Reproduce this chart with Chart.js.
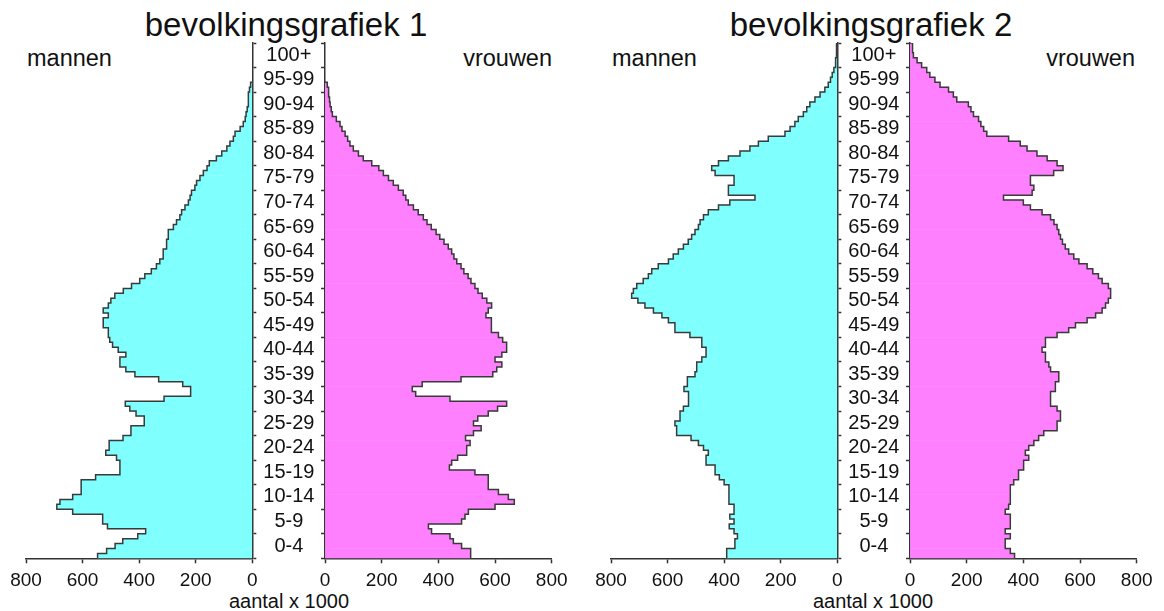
<!DOCTYPE html>
<html>
<head>
<meta charset="utf-8">
<script src="https://cdn.jsdelivr.net/npm/chart.js@4.4.1/dist/chart.umd.min.js"></script>
<style>
html,body{margin:0;padding:0;background:#fff;}
#wrap{position:relative;width:1164px;height:611px;overflow:hidden;font-family:"Liberation Sans",Arial,sans-serif;color:#111;}
canvas{position:absolute;top:0;}
.t{position:absolute;white-space:nowrap;line-height:1;}
</style>
</head>
<body>
<div id="wrap">
  <div class="t" style="font-size:33px;top:8px;left:286px;transform:translateX(-50%)">bevolkingsgrafiek 1</div>
  <div class="t" style="font-size:33px;top:8px;left:871px;transform:translateX(-50%)">bevolkingsgrafiek 2</div>
  <div class="t" style="font-size:23.5px;top:47.4px;left:27px">mannen</div>
  <div class="t" style="font-size:23.5px;top:47.4px;left:552px;transform:translateX(-100%)">vrouwen</div>
  <div class="t" style="font-size:23.5px;top:47.4px;left:612px">mannen</div>
  <div class="t" style="font-size:23.5px;top:47.4px;left:1135px;transform:translateX(-100%)">vrouwen</div>
  <div class="t" style="font-size:20px;top:591px;left:289px;transform:translateX(-50%)">aantal x 1000</div>
  <div class="t" style="font-size:20px;top:591px;left:873px;transform:translateX(-50%)">aantal x 1000</div>
  <canvas id="c1L" width="330" height="611" style="left:0px"></canvas>
  <canvas id="c1R" width="280" height="611" style="left:300px"></canvas>
  <canvas id="c2L" width="330" height="611" style="left:585px"></canvas>
  <canvas id="c2R" width="280" height="611" style="left:885px"></canvas>
</div>
<script>
// ---- data (x 1000 persons, by single year of age, starting at age 0) ----
const ageLabels = ['0-4','5-9','10-14','15-19','20-24','25-29','30-34','35-39','40-44','45-49',
  '50-54','55-59','60-64','65-69','70-74','75-79','80-84','85-89','90-94','95-99','100+'];
const xTickValues = [0, 200, 400, 600, 800];

const men1 = [547,515,485,458,405,377,512,529,529,635,
  691,680,635,605,605,605,554,468,468,468,
  480,518,506,506,457,429,429,382,382,411,
  433,449,312,218,218,246,331,415,447,468,
  468,447,474,494,504,509,509,527,527,509,
  527,509,500,486,456,427,398,380,357,339,
  327,315,315,303,303,297,297,279,268,256,
  250,238,226,220,215,203,197,185,173,160,
  152,127,108,90,79,67,61,43,32,25,
  22,18,14,14,14,10,6];

const women1 = [514,514,482,453,441,376,365,482,494,506,
  600,668,647,612,576,576,576,529,439,447,
  468,500,500,512,496,524,551,524,539,576,
  609,641,441,320,308,343,480,592,606,624,
  600,624,641,641,627,612,588,588,586,568,
  576,588,571,555,540,529,515,505,490,480,
  465,455,447,435,420,405,392,375,360,347,
  329,312,294,285,276,259,241,224,206,190,
  165,135,118,100,88,80,71,60,53,40,
  26,22,18,16,14,12,8];

const men2 = [391,391,362,362,353,365,382,365,380,365,
  365,383,383,383,383,400,417,432,432,464,
  464,456,473,491,517,568,568,574,556,556,
  544,526,526,526,542,530,530,503,497,497,
  479,464,464,479,479,521,574,574,597,620,
  650,680,705,727,721,709,686,668,656,633,
  597,580,562,544,527,515,503,491,485,473,
  456,420,380,291,385,385,365,365,432,444,
  420,385,344,309,279,244,185,167,150,138,
  120,108,97,79,61,44,32,24,18,12,
  8,5,4,3,2];

const women2 = [369,354,336,336,354,336,354,354,354,336,
  348,354,354,354,354,366,383,383,401,401,
  419,407,419,437,454,472,519,519,531,531,
  519,496,496,496,513,513,525,525,496,490,
  478,478,466,478,478,519,560,584,625,655,
  678,690,700,708,708,700,678,665,645,625,
  596,578,560,548,538,531,525,519,508,496,
  466,425,400,330,431,437,425,425,507,540,
  519,484,448,413,389,348,271,260,250,242,
  224,215,206,165,153,136,106,88,70,59,
  41,25,12,9,9];

// ---- styling ----
const AX = '#333333';
const CYAN = '#80ffff';
const MAGENTA = '#ff80ff';
Chart.defaults.font.family = '"Liberation Sans", Arial, sans-serif';

function outlinePoints(vals) {
  const pts = [];
  vals.forEach((v, i) => { pts.push({x: v, y: i}); pts.push({x: v, y: i + 1}); });
  pts.push({x: 0, y: vals.length});
  return pts;
}
function barPoints(vals) {
  return vals.map((v, i) => ({x: v, y: i + 0.5}));
}

function makeHalf(id, vals, color, isLeft) {
  return new Chart(document.getElementById(id), {
    type: 'bar',
    data: {
      datasets: [
        {type: 'line', data: outlinePoints(vals), borderColor: '#3a3a3a', borderWidth: 1.5,
         pointRadius: 0, fill: false, tension: 0, order: 0},
        {type: 'bar', data: barPoints(vals), backgroundColor: color, borderWidth: 0,
         barPercentage: 1, categoryPercentage: 1, order: 1}
      ]
    },
    options: {
      indexAxis: 'y',
      responsive: false,
      animation: false,
      events: [],
      layout: {padding: isLeft ? {left: 26, right: 4.7, top: 43, bottom: 12.7}
                                : {left: 17, right: 28.3, top: 43, bottom: 12.7}},
      plugins: {legend: {display: false}, tooltip: {enabled: false}},
      scales: {
        x: {
          type: 'linear', min: 0, max: 800, reverse: isLeft, offset: false, position: 'bottom',
          afterBuildTicks: s => { s.ticks = xTickValues.map(v => ({value: v})); },
          afterFit: s => { s.height = 40; },
          ticks: {font: {size: 19}, color: '#111', padding: 6.5, maxRotation: 0, autoSkip: false},
          grid: {offset: false, drawOnChartArea: false, drawTicks: true, tickLength: 5, tickColor: AX, tickWidth: 1.5},
          border: {display: true, color: AX, width: 1.5}
        },
        y: {
          type: 'linear', min: 0, max: 105, offset: false, position: isLeft ? 'right' : 'left',
          afterBuildTicks: s => {
            const t = [];
            for (let v = 0; v <= 105; v += 2.5) t.push({value: v});
            s.ticks = t;
          },
          afterFit: s => { s.width = isLeft ? 73 : 8; },
          ticks: {
            display: isLeft, autoSkip: false, crossAlign: 'center', padding: 7,
            font: {size: 20}, color: '#111',
            callback: v => (v % 5 === 2.5) ? ageLabels[Math.round((v - 2.5) / 5)] : ''
          },
          grid: {
            offset: false, drawOnChartArea: false, drawTicks: true, tickLength: 4, tickWidth: 1.5,
            tickColor: c => (c.tick && c.tick.value % 5 === 0) ? AX : 'rgba(0,0,0,0)'
          },
          border: {display: true, color: AX, width: 1.5}
        }
      }
    }
  });
}

makeHalf('c1L', men1, CYAN, true);
makeHalf('c1R', women1, MAGENTA, false);
makeHalf('c2L', men2, CYAN, true);
makeHalf('c2R', women2, MAGENTA, false);
</script>
</body>
</html>
